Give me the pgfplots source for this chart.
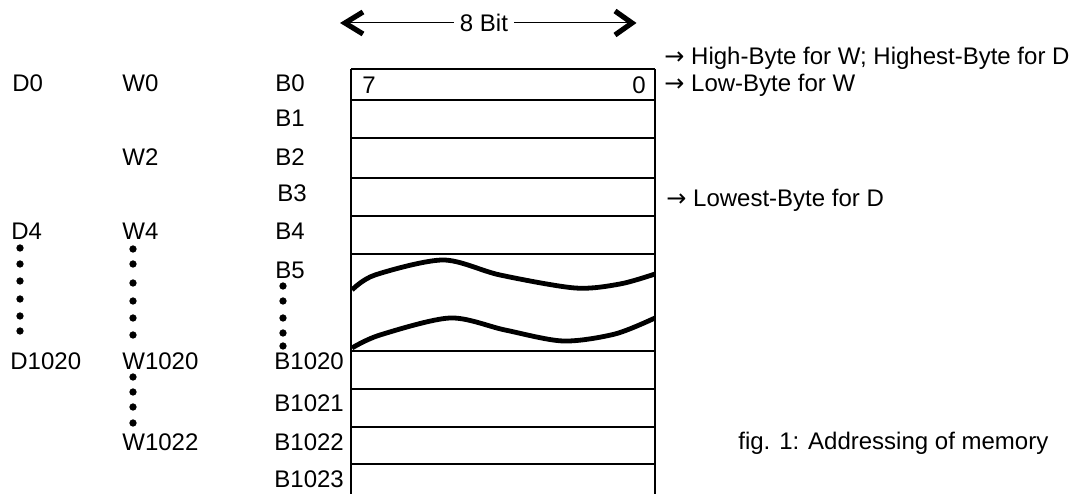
\documentclass[border=0pt]{standalone}
\usepackage{fontspec}
\setmainfont{Liberation Sans}
\newfontfamily\scan{Liberation Sans}
\newfontfamily\sym{DejaVu Sans}
\usepackage{pgfplots}
\pgfplotsset{compat=1.18}
\begin{document}
\begin{tikzpicture}[lbl/.style={font=\scan\fontsize{12}{14}\selectfont, inner sep=0pt, anchor=west}]
\begin{axis}[
    width=539pt, height=247pt, scale only axis,
    xmin=0, xmax=1078, ymin=0, ymax=494, y dir=reverse,
    hide axis, clip=false,
]
% keep the full frame in the bounding box
\addplot[draw=none] coordinates {(0,0)(1078,494)};
% memory box: verticals and row lines
\addplot[black, line width=1.4pt] coordinates {(351,69)(351,494)};
\addplot[black, line width=1.4pt] coordinates {(655,69)(655,494)};
\addplot[black, line width=1.2pt] coordinates {(351,69)(655,69)};
\addplot[black, line width=0.9pt] coordinates {(351,100)(655,100)};
\addplot[black, line width=0.9pt] coordinates {(351,138)(655,138)};
\addplot[black, line width=0.9pt] coordinates {(351,178)(655,178)};
\addplot[black, line width=0.9pt] coordinates {(351,216)(655,216)};
\addplot[black, line width=0.9pt] coordinates {(351,254)(655,254)};
\addplot[black, line width=0.9pt] coordinates {(351,351)(655,351)};
\addplot[black, line width=0.9pt] coordinates {(351,389)(655,389)};
\addplot[black, line width=0.9pt] coordinates {(351,427)(655,427)};
\addplot[black, line width=0.9pt] coordinates {(351,464)(655,464)};
% break waves
\addplot[black, line width=2.4pt, smooth] coordinates {(352,290)(375,275)(443,260)(500,275)(575,288)(620,284)(655,274)};
\addplot[black, line width=2.4pt, smooth] coordinates {(352,348)(380,335)(450,318)(505,330)(563,341)(615,334)(655,318)};
% 8 bit arrow
\addplot[black, line width=0.5pt] coordinates {(345,23)(631,23)};
\addplot[black, line width=2.6pt] coordinates {(363,12)(345,23)(363,34)};
\addplot[black, line width=2.6pt] coordinates {(615,11)(632,23)(615,35)};
% dots
\addplot[only marks, mark=*, mark size=1.6pt, black] coordinates {
(20,248)(20,264)(20,281)(20,299)(20,316)(20,331)
(133,249)(133,264)(133,283)(133,301)(133,318)(133,335)
(283,286)(283,301)(283,318)(283,333)(283,346)
(133,377)(133,392)(133,407)(133,423)};
\node[lbl, anchor=center, fill=white, inner xsep=3pt] at (axis cs:484,23) {8 Bit};
\node[lbl] at (axis cs:362,85) {7};
\node[lbl, anchor=east] at (axis cs:646,85) {0};
% labels
\node[lbl] at (axis cs:12,83) {D0};
\node[lbl] at (axis cs:122,83) {W0};
\node[lbl] at (axis cs:275,83) {B0};
\node[lbl] at (axis cs:275,118) {B1};
\node[lbl] at (axis cs:122,157) {W2};
\node[lbl] at (axis cs:275,157) {B2};
\node[lbl] at (axis cs:277,193) {B3};
\node[lbl] at (axis cs:11,231) {D4};
\node[lbl] at (axis cs:122,231) {W4};
\node[lbl] at (axis cs:275,231) {B4};
\node[lbl] at (axis cs:275,270) {B5};
\node[lbl] at (axis cs:10,361) {D1020};
\node[lbl] at (axis cs:122,361) {W1020};
\node[lbl] at (axis cs:274,361) {B1020};
\node[lbl] at (axis cs:274,403) {B1021};
\node[lbl] at (axis cs:122,442) {W1022};
\node[lbl] at (axis cs:274,442) {B1022};
\node[lbl] at (axis cs:274,479) {B1023};
% right texts
\node[lbl] at (axis cs:664,58) {{\sym →} High-Byte for W; Highest-Byte for D};
\node[lbl] at (axis cs:664,85) {{\sym →} Low-Byte for W};
\node[lbl] at (axis cs:666,200) {{\sym →} Lowest-Byte for D};
\node[lbl] at (axis cs:738,443) {fig. 1: Addressing of memory};
\end{axis}
\end{tikzpicture}
\end{document}
